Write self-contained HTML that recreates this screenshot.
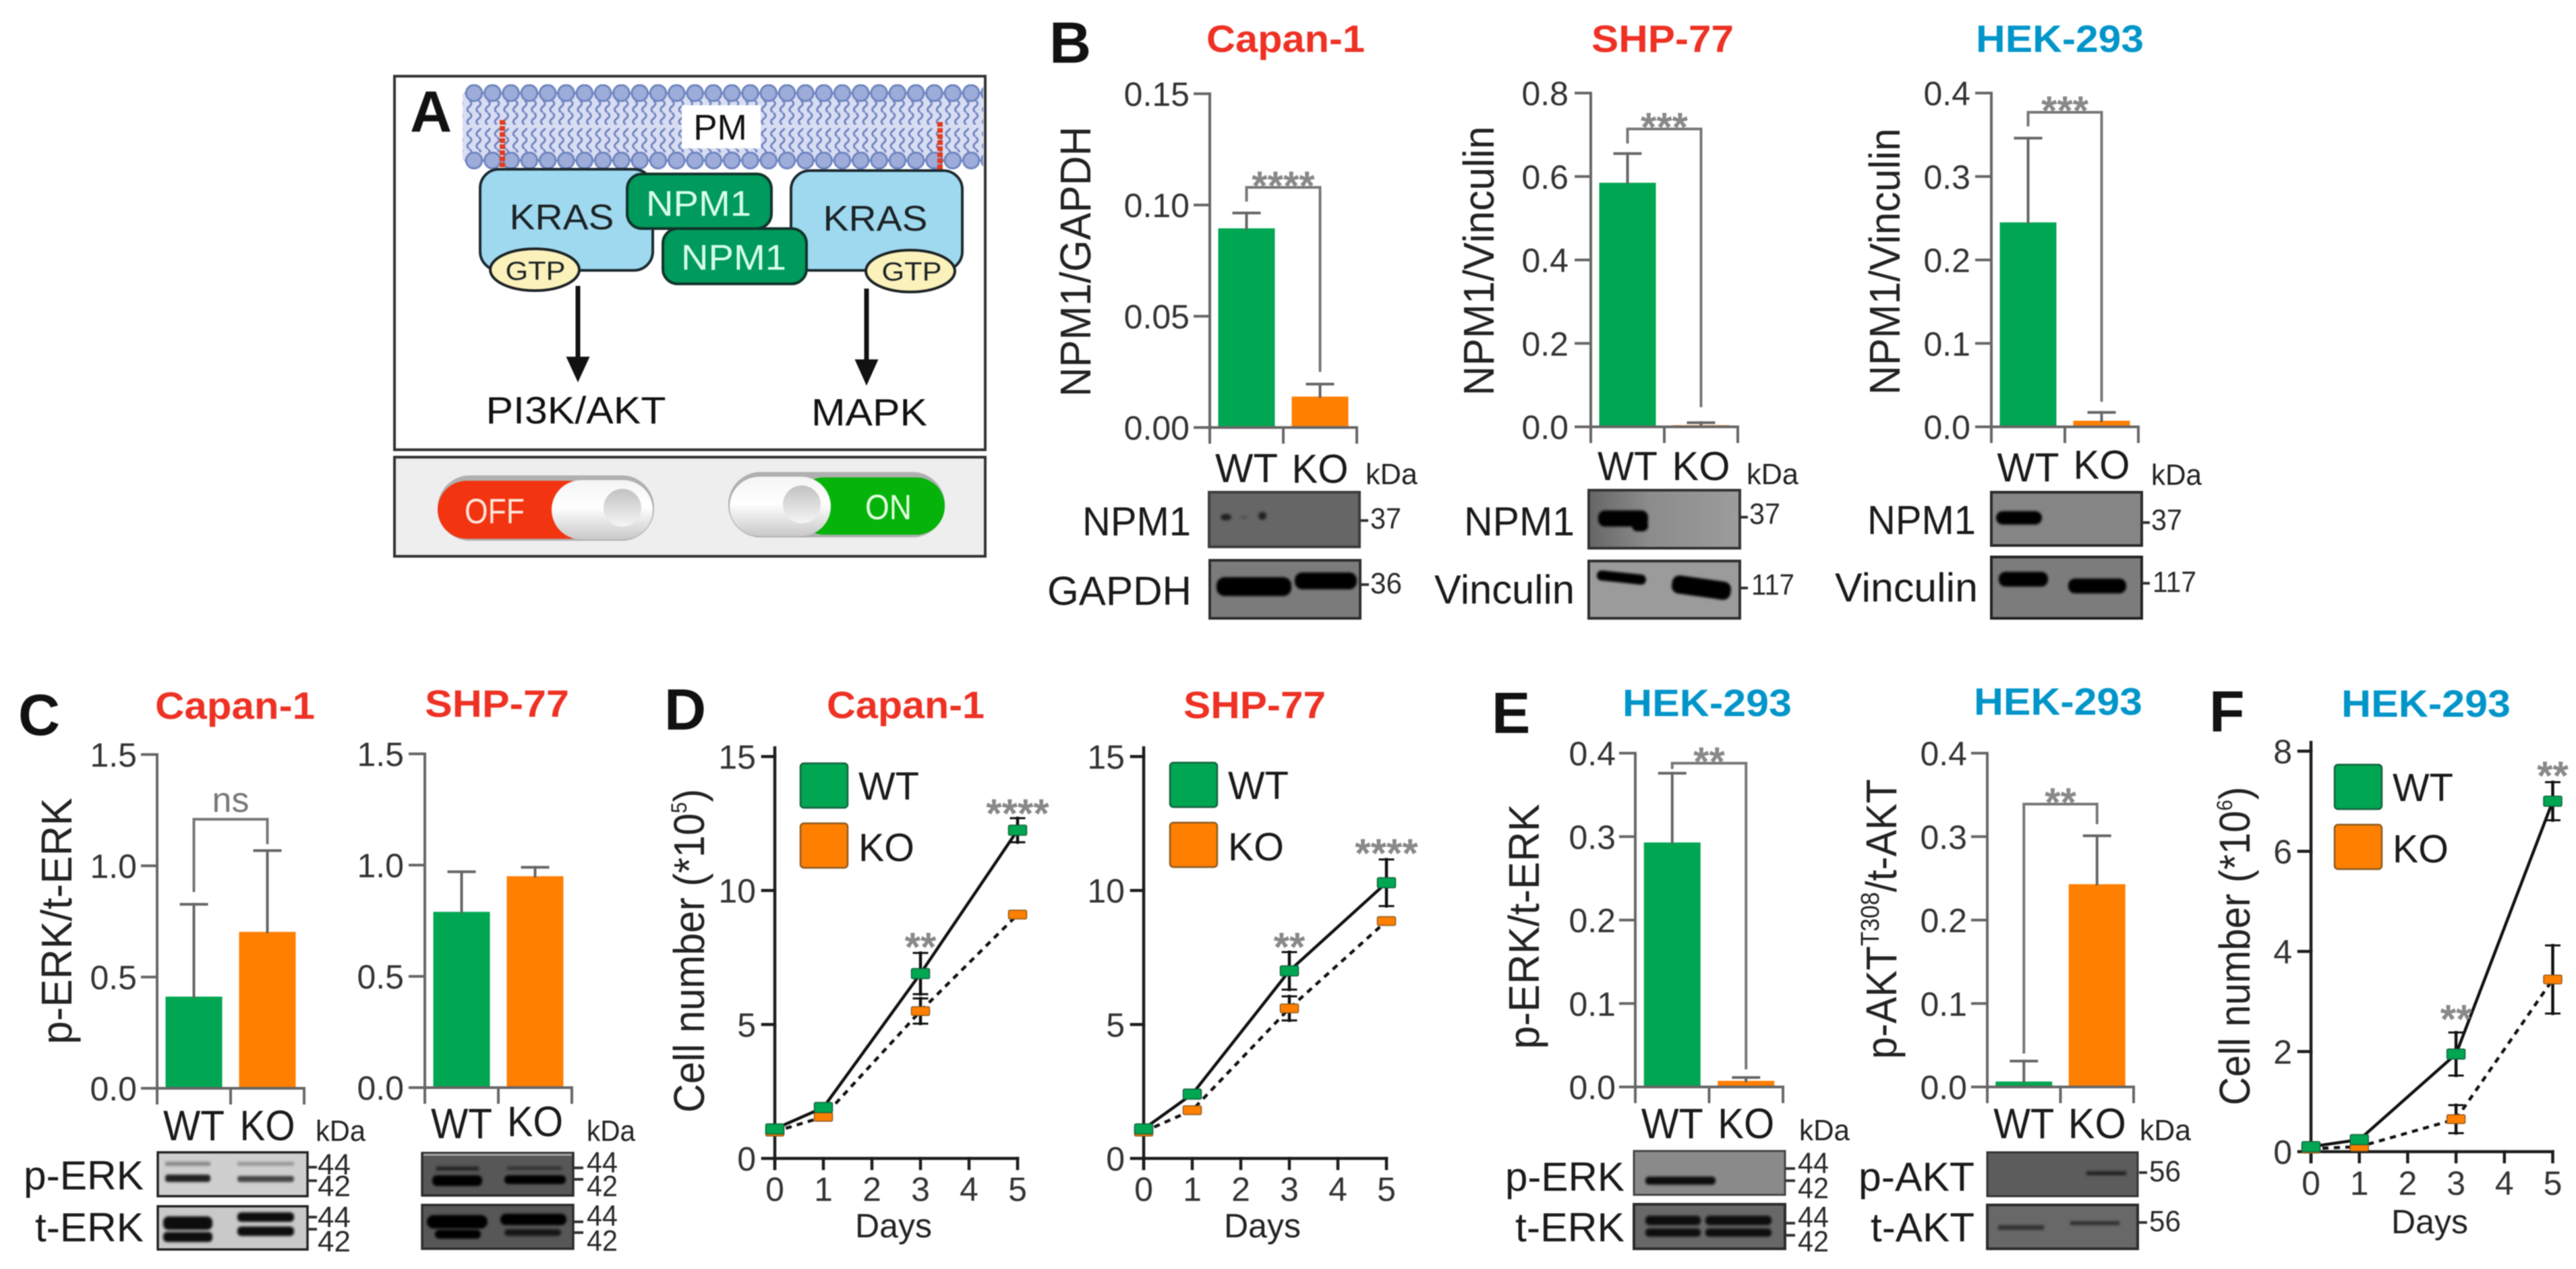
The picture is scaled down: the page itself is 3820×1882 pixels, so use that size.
<!DOCTYPE html>
<html lang="en">
<head>
<meta charset="utf-8">
<title>NPM1 KRAS figure</title>
<style>
html,body{margin:0;padding:0;background:#fff;width:3820px;height:1882px;overflow:hidden}
svg{display:block;font-family:"Liberation Sans",Arial,sans-serif;filter:blur(.8px)}
.pl{font-weight:700;fill:#111;font-size:86px}
.tr{font-weight:700;fill:#ee3124;font-size:57px}
.tb{font-weight:700;fill:#0095c9;font-size:57px}
.bl{fill:#1a1a1a;font-size:60px}
.mw{fill:#2a2a2a;font-size:44px}
.kd{fill:#222;font-size:44px}
.a{fill:#1c2326}
</style>
</head>
<body>
<svg id="figure" width="3820" height="1882" viewBox="0 0 3820 1882">
<defs>
<pattern id="heads" x="689.35" y="125" width="27.3" height="100" patternUnits="userSpaceOnUse">
<rect x="0" y="11.500" width="27.3" height="3" fill="#6f85c0"/>
<circle cx="13.65" cy="13" r="11.8" fill="#9dacd9" stroke="#6f85c0" stroke-width="3"/>
</pattern>
<pattern id="tails" x="689" y="149" width="13.65" height="18" patternUnits="userSpaceOnUse">
<path d="M7 0q6 4.500 0 9q-6 4.500 0 9" fill="none" stroke="#7186c2" stroke-width="3"/>
</pattern>
<linearGradient id="knobpill" x1="0" y1="0" x2="0" y2="1"><stop offset="0" stop-color="#f4f4f4"/><stop offset=".45" stop-color="#fff"/><stop offset="1" stop-color="#c8c8c8"/></linearGradient>
<linearGradient id="knob" x1="0" y1="0" x2="0" y2="1"><stop offset="0" stop-color="#c2c2c2"/><stop offset="1" stop-color="#f5f5f5"/></linearGradient>
<linearGradient id="npmblot" x1="0" y1="0" x2="1" y2="0"><stop offset="0" stop-color="#666"/><stop offset=".4" stop-color="#8c8c8c"/><stop offset="1" stop-color="#9c9c9c"/></linearGradient>
<filter id="soft" x="-20%" y="-60%" width="140%" height="220%"><feGaussianBlur stdDeviation="1.8"/></filter>
</defs>
<rect width="3820" height="1882" fill="#fff"/>

<g>
<rect x="585" y="113" width="876" height="554" fill="#fff" stroke="#333" stroke-width="4"/>
<g>
<rect x="686" y="138" width="772" height="100" fill="#d8ddf2"/>
<rect x="686" y="149" width="772" height="36" fill="url(#tails)"/>
<rect x="686" y="190" width="772" height="36" fill="url(#tails)"/>
<rect x="689" y="124" width="769" height="29" fill="url(#heads)"/>
<rect x="689" y="225" width="769" height="27" fill="url(#heads)"/>
<rect x="1011" y="156" width="117" height="64" fill="#fff"/>
<text x="1068" y="207" text-anchor="middle" font-size="53" fill="#111">PM</text>
<path d="M745 178V252" fill="none" stroke="#e33a1c" stroke-width="8" stroke-dasharray="7 2"/>
<path d="M1394 181V254" fill="none" stroke="#e33a1c" stroke-width="8" stroke-dasharray="7 2"/>
</g>
<rect x="712" y="251" width="256" height="150" rx="28" fill="#9fd9ef" stroke="#1c2a30" stroke-width="4"/>
<rect x="1173" y="253" width="254" height="148" rx="28" fill="#9fd9ef" stroke="#1c2a30" stroke-width="4"/>
<text x="833" y="340" text-anchor="middle" font-size="53" textLength="155" class="a">KRAS</text>
<text x="1298" y="342" text-anchor="middle" font-size="53" textLength="155" class="a">KRAS</text>
<rect x="930" y="258" width="214" height="81" rx="22" fill="#009a5c" stroke="#12332a" stroke-width="4"/>
<rect x="983" y="339" width="213" height="82" rx="22" fill="#009a5c" stroke="#12332a" stroke-width="4"/>
<text x="1036" y="320" text-anchor="middle" font-size="53" textLength="156" fill="#d9ffec">NPM1</text>
<text x="1088" y="400" text-anchor="middle" font-size="53" textLength="156" fill="#d9ffec">NPM1</text>
<ellipse cx="793" cy="400" rx="66" ry="31" fill="#fbf1ba" stroke="#1c2326" stroke-width="4"/>
<ellipse cx="1350" cy="402" rx="66" ry="31" fill="#fbf1ba" stroke="#1c2326" stroke-width="4"/>
<text x="794" y="415" text-anchor="middle" font-size="39" textLength="89" class="a">GTP</text>
<text x="1352" y="416" text-anchor="middle" font-size="39" textLength="89" class="a">GTP</text>
<path d="M853.500 424h7v105h14l-17.500 38-17.500-38h14z" fill="#111"/>
<path d="M1281.500 428h7v105h14l-17.500 39-17.500-39h14z" fill="#111"/>
<text x="854" y="628" text-anchor="middle" font-size="57" textLength="267" fill="#111">PI3K/AKT</text>
<text x="1289" y="631" text-anchor="middle" font-size="57" textLength="172" fill="#111">MAPK</text>
<text x="608" y="195" class="pl">A</text>
<rect x="585" y="678" width="876" height="147" fill="#eee" stroke="#333" stroke-width="4"/>
<g>
<rect x="649" y="705" width="321" height="97" rx="48" fill="#b0b0b0"/>
<rect x="649" y="713" width="240" height="86" rx="43" fill="#f23410"/>
<rect x="818" y="712" width="150" height="88" rx="44" fill="url(#knobpill)"/>
<circle cx="923" cy="753" r="28" fill="url(#knob)"/>
<text x="689" y="776" font-size="52" textLength="89" fill="#ffe6dc">OFF</text>
</g>
<g>
<rect x="1080" y="700" width="321" height="97" rx="48" fill="#b0b0b0"/>
<rect x="1180" y="708" width="221" height="85" rx="42" fill="#06b30a"/>
<rect x="1082" y="707" width="150" height="88" rx="44" fill="url(#knobpill)"/>
<circle cx="1189" cy="748" r="28" fill="url(#knob)"/>
<text x="1283" y="770" font-size="52" textLength="69" fill="#e4ffe0">ON</text>
</g>
</g>

<g>
<text x="1556" y="93" class="pl">B</text>
<text x="1789" y="77" class="tr" textLength="235">Capan-1</text>
<text x="2360" y="77" class="tr" textLength="211">SHP-77</text>
<text x="2930" y="77" class="tb" textLength="249">HEK-293</text>
<text x="2025" y="718" class="kd" textLength="77">kDa</text>
<text x="2590" y="718" class="kd" textLength="77">kDa</text>
<text x="3190" y="719" class="kd" textLength="75">kDa</text>
<g>
<rect x="1793" y="730" width="223" height="81" fill="#666" stroke="#3c3c3c" stroke-width="4"/>
<g filter="url(#soft)" fill="#222"><ellipse cx="1818" cy="767" rx="8" ry="5"/><ellipse cx="1845" cy="767" rx="6" ry="3" fill="#555"/><ellipse cx="1872" cy="765" rx="6" ry="6"/></g>
</g>
<g>
<rect x="1794" y="831" width="223" height="86" fill="#7b7b7b" stroke="#2e2e2e" stroke-width="4"/>
<g filter="url(#soft)" fill="#000"><rect x="1804" y="856" width="111" height="28" rx="12"/><rect x="1920" y="849" width="92" height="25" rx="11"/></g>
</g>
<g>
<rect x="2356" y="727" width="224" height="86" fill="url(#npmblot)" stroke="#333" stroke-width="4"/>
<g filter="url(#soft)" fill="#000"><rect x="2370" y="757" width="74" height="24" rx="10"/><rect x="2420" y="770" width="24" height="18" rx="8"/></g>
</g>
<g>
<rect x="2356" y="832" width="224" height="85" fill="#9b9b9b" stroke="#2e2e2e" stroke-width="4"/>
<g filter="url(#soft)" fill="#000"><rect x="2368" y="849" width="73" height="15" rx="7" transform="rotate(6 2404 856)"/><rect x="2479" y="858" width="88" height="27" rx="11" transform="rotate(8 2523 871)"/></g>
</g>
<g>
<rect x="2953" y="730" width="223" height="79" fill="#858585" stroke="#2a2a2a" stroke-width="4"/>
<g filter="url(#soft)" fill="#000"><rect x="2960" y="758" width="68" height="20" rx="10"/></g>
</g>
<g>
<rect x="2953" y="826" width="223" height="91" fill="#7c7c7c" stroke="#222" stroke-width="4"/>
<g filter="url(#soft)" fill="#000"><rect x="2964" y="848" width="73" height="22" rx="10"/><rect x="3067" y="858" width="86" height="22" rx="10"/></g>
</g>
<text x="1605" y="794" class="bl" textLength="161">NPM1</text>
<text x="1553" y="897" class="bl" textLength="214">GAPDH</text>
<text x="2171" y="794" class="bl" textLength="164">NPM1</text>
<text x="2127" y="895" class="bl" textLength="208">Vinculin</text>
<text x="2769" y="792" class="bl" textLength="161">NPM1</text>
<text x="2721" y="892" class="bl" textLength="212">Vinculin</text>
<text x="2032" y="784" class="mw" textLength="46">37</text>
<text x="2032" y="880" class="mw" textLength="47">36</text>
<text x="2594" y="777" class="mw" textLength="46">37</text>
<text x="2597" y="882" class="mw" textLength="64">117</text>
<text x="3190" y="786" class="mw" textLength="46">37</text>
<text x="3192" y="878" class="mw" textLength="65">117</text>
<path d="M2018 772h11M2019 867h11M2581 767h11M2581 872h11M3177 775h11M3177 865h11" stroke="#333" stroke-width="4"/>
</g>

<g>
<text x="27" y="1090" class="pl">C</text>
<text x="230" y="1066" class="tr" textLength="237">Capan-1</text>
<text x="630" y="1063" class="tr" textLength="214">SHP-77</text>
<text x="468" y="1692" class="kd" textLength="74">kDa</text>
<text x="870" y="1692" class="kd" textLength="72">kDa</text>
<g>
<rect x="234" y="1709" width="222" height="65" fill="#cfcfcf" stroke="#222" stroke-width="3.5"/>
<g filter="url(#soft)"><rect x="245" y="1723" width="67" height="6" fill="#888"/><rect x="352" y="1723" width="84" height="6" fill="#999"/><rect x="245" y="1742" width="67" height="11" rx="4" fill="#222"/><rect x="352" y="1744" width="84" height="9" rx="4" fill="#444"/></g>
</g>
<g>
<rect x="234" y="1789" width="222" height="64" fill="#c9c9c9" stroke="#222" stroke-width="3.5"/>
<g filter="url(#soft)" fill="#0d0d0d"><rect x="242" y="1804" width="73" height="20" rx="8"/><rect x="242" y="1827" width="73" height="15" rx="6"/><rect x="352" y="1798" width="84" height="14" rx="6"/><rect x="352" y="1819" width="84" height="14" rx="6"/></g>
</g>
<g>
<rect x="626" y="1710" width="224" height="63" fill="#575757" stroke="#2c2c2c" stroke-width="3.5"/>
<rect x="628" y="1711" width="220" height="3" fill="#aaa"/>
<g filter="url(#soft)"><rect x="647" y="1730" width="63" height="6" fill="#222"/><rect x="641" y="1743" width="74" height="16" rx="7" fill="#050505"/><rect x="752" y="1730" width="81" height="5" fill="#333"/><rect x="748" y="1743" width="91" height="13" rx="6" fill="#050505"/></g>
</g>
<g>
<rect x="626" y="1787" width="224" height="65" fill="#575757" stroke="#2c2c2c" stroke-width="3.5"/>
<g filter="url(#soft)" fill="#050505"><rect x="633" y="1802" width="90" height="20" rx="10"/><rect x="645" y="1824" width="68" height="13" rx="6"/><rect x="742" y="1800" width="98" height="17" rx="8"/><rect x="748" y="1823" width="84" height="10" rx="5" fill="#151515"/></g>
</g>
<text x="35" y="1764" class="bl" textLength="178">p-ERK</text>
<text x="52" y="1841" class="bl" textLength="161">t-ERK</text>
<text x="471" y="1742" class="mw" textLength="49">44</text>
<text x="471" y="1774" class="mw" textLength="49">42</text>
<text x="471" y="1820" class="mw" textLength="49">44</text>
<text x="471" y="1856" class="mw" textLength="49">42</text>
<text x="870" y="1739" class="mw" textLength="46">44</text>
<text x="870" y="1774" class="mw" textLength="46">42</text>
<text x="870" y="1818" class="mw" textLength="46">44</text>
<text x="870" y="1855" class="mw" textLength="46">42</text>
<path d="M456 1731h14M456 1751h14M456 1805h14M456 1823h14M851 1732h14M851 1749h14M851 1812h14M851 1828h14" stroke="#333" stroke-width="4"/>
</g>

<g>
<text x="985" y="1082" class="pl">D</text>
<text x="1226" y="1065" class="tr" textLength="234">Capan-1</text>
<text x="1755" y="1065" class="tr" textLength="211">SHP-77</text>
</g>

<g>
<text x="2212" y="1087" class="pl">E</text>
<text x="2406" y="1062" class="tb" textLength="251">HEK-293</text>
<text x="2927" y="1060" class="tb" textLength="250">HEK-293</text>
<text x="2668" y="1691" class="kd" textLength="75">kDa</text>
<text x="3173" y="1691" class="kd" textLength="76">kDa</text>
<g>
<rect x="2423" y="1707" width="224" height="65" fill="#8a8a8a" stroke="#444" stroke-width="3"/>
<g filter="url(#soft)" fill="#0d0d0d"><rect x="2440" y="1745" width="104" height="12" rx="5"/></g>
</g>
<g>
<rect x="2423" y="1786" width="224" height="66" fill="#686868" stroke="#2c2c2c" stroke-width="4"/>
<g filter="url(#soft)" fill="#0a0a0a"><rect x="2440" y="1803" width="82" height="14" rx="6"/><rect x="2440" y="1822" width="82" height="12" rx="5"/><rect x="2529" y="1803" width="98" height="14" rx="6"/><rect x="2529" y="1822" width="98" height="12" rx="5"/></g>
</g>
<g>
<rect x="2947" y="1709" width="223" height="65" fill="#5c5c5c" stroke="#333" stroke-width="3"/>
<g filter="url(#soft)" fill="#222"><rect x="3094" y="1737" width="59" height="6"/></g>
</g>
<g>
<rect x="2947" y="1787" width="223" height="65" fill="#686868" stroke="#2c2c2c" stroke-width="4"/>
<g filter="url(#soft)" fill="#333"><rect x="2963" y="1817" width="68" height="7"/><rect x="3070" y="1811" width="73" height="6"/></g>
</g>
<text x="2232" y="1766" class="bl" textLength="177">p-ERK</text>
<text x="2247" y="1841" class="bl" textLength="162">t-ERK</text>
<text x="2756" y="1766" class="bl" textLength="172">p-AKT</text>
<text x="2774" y="1841" class="bl" textLength="154">t-AKT</text>
<text x="2666" y="1740" class="mw" textLength="46">44</text>
<text x="2666" y="1777" class="mw" textLength="46">42</text>
<text x="2666" y="1820" class="mw" textLength="46">44</text>
<text x="2666" y="1856" class="mw" textLength="46">42</text>
<text x="3187" y="1752" class="mw" textLength="47">56</text>
<text x="3187" y="1826" class="mw" textLength="47">56</text>
<path d="M2648 1733h14M2648 1751h14M2648 1814h14M2648 1832h14M3172 1739h12M3172 1813h12" stroke="#333" stroke-width="4"/>
</g>

<g>
<text x="3276" y="1085" class="pl">F</text>
<text x="3472" y="1063" class="tb" textLength="251">HEK-293</text>
</g>
<g id="charts"></g>
</svg>
<script>
// ---- bar chart data ----
const barCategories = ['WT', 'KO'];
const capanNpm1Values = [0.0895, 0.0139];
const capanNpm1Errors = [0.0069, 0.0056];
const capanNpm1Ticks = [0, 0.05, 0.10, 0.15];
const capanNpm1TickLabels = ['0.00', '0.05', '0.10', '0.15'];
const shpNpm1Values = [0.585, 0.004];
const shpNpm1Errors = [0.07, 0.006];
const npm1VinculinTicks = [0, 0.2, 0.4, 0.6, 0.8];
const npm1VinculinTickLabels = ['0.0', '0.2', '0.4', '0.6', '0.8'];
const hekNpm1Values = [0.245, 0.0073];
const hekNpm1Errors = [0.101, 0.01];
const tenthTicks = [0, 0.1, 0.2, 0.3, 0.4];
const tenthTickLabels = ['0.0', '0.1', '0.2', '0.3', '0.4'];
const capanErkValues = [0.412, 0.703];
const capanErkErrors = [0.415, 0.365];
const shpErkValues = [0.79, 0.95];
const shpErkErrors = [0.18, 0.04];
const erkTicks = [0, 0.5, 1.0, 1.5];
const erkTickLabels = ['0.0', '0.5', '1.0', '1.5'];
const hekErkValues = [0.293, 0.0073];
const hekErkErrors = [0.083, 0.004];
const hekAktValues = [0.0065, 0.243];
const hekAktErrors = [0.0245, 0.058];

// ---- growth curve data ----
const measuredDays = [0, 1, 3, 5];
const dayTicks = [0, 1, 2, 3, 4, 5];
const cellTicks5 = [0, 5, 10, 15];
const cellTicks6 = [0, 2, 4, 6, 8];
const capanWt = [1.1, 1.9, 6.9, 12.25];
const capanWtErr = [0, 0, 0.77, 0.45];
const capanKo = [1.0, 1.55, 5.5, 9.1];
const capanKoErr = [0, 0, 0.47, 0];
const shpWt = [1.1, 2.4, 7.0, 10.29];
const shpWtErr = [0, 0, 0.7, 0.87];
const shpKo = [1.0, 1.8, 5.6, 8.86];
const shpKoErr = [0, 0, 0.45, 0];
const hekWt = [0.1, 0.24, 1.95, 7.0];
const hekWtErr = [0, 0, 0.43, 0.38];
const hekKo = [0.06, 0.1, 0.65, 3.44];
const hekKoErr = [0, 0, 0.28, 0.68];

const figure = document.getElementById('figure');
const root = document.getElementById('charts');
const SVGNS = figure.namespaceURI;
figure.querySelectorAll('text[textLength]').forEach(function (t) { t.setAttribute('lengthAdjust', 'spacingAndGlyphs'); });

function mk(parent, tag, attrs) {
  const el = document.createElementNS(SVGNS, tag);
  for (const k in attrs) el.setAttribute(k, attrs[k]);
  parent.appendChild(el);
  return el;
}
function group(parent, name) {
  const g = mk(parent, 'g', {});
  
  
  return g;
}
function label(parent, name, str, x, y, size, extra) {
  const t = mk(parent, 'text', Object.assign({ x: x, y: y, 'font-size': size }, extra || {}));
  
  
  t.textContent = str;
  return t;
}
function seg(parent, name, x1, y1, x2, y2, stroke, w) {
  const l = mk(parent, 'line', { x1: x1, y1: y1, x2: x2, y2: y2, stroke: stroke, 'stroke-width': w, 'stroke-linecap': 'square' });
  
  
  return l;
}
function rotatedTitle(parent, name, parts, bx, cy, size, sx) {
  const t = mk(parent, 'text', { 'font-size': size, 'text-anchor': 'middle', fill: '#222', transform: 'translate(' + bx + ',' + cy + ') rotate(-90) scale(' + sx + ',1)' });
  
  
  let shift = 0;
  parts.forEach(function (p) {
    const s = mk(t, 'tspan', {});
    if (p.sup) { s.setAttribute('font-size', p.sup); s.setAttribute('dy', -26); shift = 26; }
    else if (shift) { s.setAttribute('dy', shift); shift = 0; }
    s.textContent = p.text;
  });
  return t;
}

function drawBarChart(c) {
  const g = group(root, c.name);
  const maxV = c.ticks[c.ticks.length - 1];
  const y = function (v) { return c.zeroY - v / maxV * (c.zeroY - c.topY); };
  const band = (c.endX - c.axisX) / c.categories.length;
  const cx = function (i) { return c.axisX + (i + 0.5) * band; };
  const axisColor = '#666';
  c.values.forEach(function (v, i) {
    const bar = mk(g, 'rect', { x: cx(i) - 42, y: y(v), width: 84, height: c.zeroY - y(v), fill: i === 0 ? '#00a651' : '#ff7f00' });
    
    
    seg(g, 'error-bar-' + c.categories[i].toLowerCase(), cx(i), y(v), cx(i), y(v + c.errors[i]), axisColor, 4);
    seg(g, 'error-cap-' + c.categories[i].toLowerCase(), cx(i) - 19, y(v + c.errors[i]), cx(i) + 19, y(v + c.errors[i]), axisColor, 4);
    label(g, 'category-label-' + c.categories[i].toLowerCase(), c.categories[i], cx(i), c.catY[i], c.catSize, { 'text-anchor': 'middle', fill: '#1a1a1a', textLength: c.catW[i], lengthAdjust: 'spacingAndGlyphs' });
  });
  seg(g, 'y-axis', c.axisX, c.topY, c.axisX, c.zeroY + 22, axisColor, 4);
  seg(g, 'x-axis', c.axisX, c.zeroY, c.endX, c.zeroY, axisColor, 4);
  [0, 1, 2].forEach(function (k) { seg(g, 'x-tick', c.axisX + k * band, c.zeroY, c.axisX + k * band, c.zeroY + 22, axisColor, 4); });
  c.ticks.forEach(function (v, i) {
    seg(g, 'y-tick', c.axisX - 22, y(v), c.axisX, y(v), axisColor, 4);
    label(g, 'y-tick-label', c.tickLabels[i], c.labelRight, y(v) + 18, 50, { 'text-anchor': 'end', fill: '#333' });
  });
  if (c.bracket) {
    const b = c.bracket;
    const br = mk(g, 'path', { d: 'M' + cx(0) + ' ' + y(b.left) + 'V' + y(b.top) + 'H' + cx(1) + 'V' + y(b.right), fill: 'none', stroke: '#777', 'stroke-width': 4 });
    
    
    if (b.text === 'ns') {
      label(g, 'significance-label', b.text, (cx(0) + cx(1)) / 2, y(b.top) - 11, 52, { 'text-anchor': 'middle', fill: '#777' });
    } else {
      label(g, 'significance-stars', b.text, (cx(0) + cx(1)) / 2, y(b.top) + 18, 60, { 'text-anchor': 'middle', fill: '#888', 'font-weight': 700 });
    }
  }
  if (c.title) rotatedTitle(g, 'y-axis-title', c.title, c.titleX, c.titleY, 64, c.titleSx);
}

function drawLineChart(c) {
  const g = group(root, c.name);
  const maxV = c.yTicks[c.yTicks.length - 1];
  const x = function (d) { return c.axisX + d * c.dayW; };
  const y = function (v) { return c.zeroY - v / maxV * (c.zeroY - c.maxY); };
  const axisColor = '#1c1c1c';
  seg(g, 'y-axis', c.axisX, c.axisTop, c.axisX, c.zeroY + 15, axisColor, 4.5);
  seg(g, 'x-axis', c.axisX, c.zeroY, x(5), c.zeroY, axisColor, 4.5);
  c.yTicks.forEach(function (v) {
    seg(g, 'y-tick', c.axisX - 18, y(v), c.axisX, y(v), axisColor, 4.5);
    label(g, 'y-tick-label', String(v), c.axisX - 28, y(v) + 18, 50, { 'text-anchor': 'end', fill: '#333' });
  });
  dayTicks.forEach(function (d) {
    seg(g, 'x-tick', x(d), c.zeroY, x(d), c.zeroY + 15, axisColor, 4.5);
    label(g, 'x-tick-label', String(d), x(d), c.xLabelY, 50, { 'text-anchor': 'middle', fill: '#333' });
  });
  label(g, 'x-axis-title', 'Days', c.daysX, c.daysY, 50, { 'text-anchor': 'middle', fill: '#222' });
  if (c.title.length) rotatedTitle(g, 'y-axis-title', c.title, c.titleX, c.titleY, 64, c.titleSx);

  [{ key: 'ko', vals: c.ko, errs: c.koErr, fill: '#ff7f00', edge: '#8a5a20', dash: '9 8', h: 13 },
   { key: 'wt', vals: c.wt, errs: c.wtErr, fill: '#00a651', edge: '#14603c', dash: null, h: 15 }].forEach(function (s) {
    const line = mk(g, 'polyline', { points: c.days.map(function (d, i) { return x(d) + ',' + y(s.vals[i]); }).join(' '), fill: 'none', stroke: '#111', 'stroke-width': 4.5 });
    if (s.dash) line.setAttribute('stroke-dasharray', s.dash);
    
    
    c.days.forEach(function (d, i) {
      if (s.errs[i] > 0) {
        seg(g, 'error-bar-' + s.key, x(d), y(s.vals[i] + s.errs[i]), x(d), y(s.vals[i] - s.errs[i]), '#111', 4.5);
        seg(g, 'error-cap-' + s.key, x(d) - 10, y(s.vals[i] + s.errs[i]), x(d) + 10, y(s.vals[i] + s.errs[i]), '#111', 3);
        seg(g, 'error-cap-' + s.key, x(d) - 10, y(s.vals[i] - s.errs[i]), x(d) + 10, y(s.vals[i] - s.errs[i]), '#111', 3);
      }
      const m = mk(g, 'rect', { x: x(d) - 13.5, y: y(s.vals[i]) - s.h / 2, width: 27, height: s.h, rx: 2, fill: s.fill, stroke: s.edge, 'stroke-width': 1.5 });
      
      
    });
  });
  c.stars.forEach(function (st) {
    label(g, 'significance-stars', st.text, x(st.day), c.zeroY - (st.lift), 60, { 'text-anchor': 'middle', fill: '#888', 'font-weight': 700 });
  });
  const lg = group(g, 'legend');
  const wtBox = mk(lg, 'rect', { x: c.legendX, y: c.legendY, width: 70, height: 66, rx: 5, fill: '#00a651', stroke: '#14603c', 'stroke-width': 2.5 });
  
  
  const koBox = mk(lg, 'rect', { x: c.legendX, y: c.legendY + 89, width: 70, height: 66, rx: 5, fill: '#ff7f00', stroke: '#8a5a20', 'stroke-width': 2.5 });
  
  
  label(lg, 'legend-label-wt', 'WT', c.legendX + 86, c.legendY + 54, 58, { fill: '#1a1a1a', textLength: 90, lengthAdjust: 'spacingAndGlyphs' });
  label(lg, 'legend-label-ko', 'KO', c.legendX + 86, c.legendY + 145, 58, { fill: '#1a1a1a', textLength: 83, lengthAdjust: 'spacingAndGlyphs' });
}

drawBarChart({ name: 'chart-b-capan-npm1', categories: barCategories, values: capanNpm1Values, errors: capanNpm1Errors, ticks: capanNpm1Ticks, tickLabels: capanNpm1TickLabels,
  axisX: 1794, endX: 2012, topY: 139, zeroY: 634, labelRight: 1764, catY: [715, 716], catSize: 60, catW: [93, 84],
  bracket: { top: 0.1079, left: 0.1015, right: 0.025, text: '****' },
  title: [{ text: 'NPM1/GAPDH' }], titleX: 1617, titleY: 388, titleSx: 0.948 });
drawBarChart({ name: 'chart-b-shp-npm1', categories: barCategories, values: shpNpm1Values, errors: shpNpm1Errors, ticks: npm1VinculinTicks, tickLabels: npm1VinculinTickLabels,
  axisX: 2359, endX: 2577, topY: 138, zeroY: 633, labelRight: 2326, catY: [712, 712], catSize: 60, catW: [89, 86],
  bracket: { top: 0.714, left: 0.679, right: 0.047, text: '***' },
  title: [{ text: 'NPM1/Vinculin' }], titleX: 2215, titleY: 387, titleSx: 0.955 });
drawBarChart({ name: 'chart-b-hek-npm1', categories: barCategories, values: hekNpm1Values, errors: hekNpm1Errors, ticks: tenthTicks, tickLabels: tenthTickLabels,
  axisX: 2953, endX: 3171, topY: 138, zeroY: 633, labelRight: 2922, catY: [714, 710], catSize: 60, catW: [92, 84],
  bracket: { top: 0.377, left: 0.36, right: 0.03, text: '***' },
  title: [{ text: 'NPM1/Vinculin' }], titleX: 2817, titleY: 388, titleSx: 0.945 });
drawBarChart({ name: 'chart-c-capan-erk', categories: barCategories, values: capanErkValues, errors: capanErkErrors, ticks: erkTicks, tickLabels: erkTickLabels,
  axisX: 233, endX: 451, topY: 1119, zeroY: 1614, labelRight: 203, catY: [1691, 1691], catSize: 63, catW: [91, 82],
  bracket: { top: 1.209, left: 0.882, right: 1.097, text: 'ns' },
  title: [{ text: 'p-ERK/t-ERK' }], titleX: 106, titleY: 1366, titleSx: 0.97 });
drawBarChart({ name: 'chart-c-shp-erk', categories: barCategories, values: shpErkValues, errors: shpErkErrors, ticks: erkTicks, tickLabels: erkTickLabels,
  axisX: 630, endX: 848, topY: 1118, zeroY: 1613, labelRight: 599, catY: [1688, 1685], catSize: 63, catW: [91, 83] });
drawBarChart({ name: 'chart-e-hek-erk', categories: barCategories, values: hekErkValues, errors: hekErkErrors, ticks: tenthTicks, tickLabels: tenthTickLabels,
  axisX: 2425, endX: 2644, topY: 1117, zeroY: 1612, labelRight: 2396, catY: [1688, 1688], catSize: 63, catW: [92, 84],
  bracket: { top: 0.388, left: 0.381, right: 0.021, text: '**' },
  title: [{ text: 'p-ERK/t-ERK' }], titleX: 2282, titleY: 1374, titleSx: 0.965 });
drawBarChart({ name: 'chart-e-hek-akt', categories: barCategories, values: hekAktValues, errors: hekAktErrors, ticks: tenthTicks, tickLabels: tenthTickLabels,
  axisX: 2947, endX: 3164, topY: 1117, zeroY: 1612, labelRight: 2917, catY: [1688, 1688], catSize: 63, catW: [90, 86],
  bracket: { top: 0.339, left: 0.04, right: 0.315, text: '**' },
  title: [{ text: 'p-AKT' }, { text: 'T308', sup: 38 }, { text: '/t-AKT' }], titleX: 2812, titleY: 1363, titleSx: 0.924 });

drawLineChart({ name: 'chart-d-capan-growth', days: measuredDays, wt: capanWt, wtErr: capanWtErr, ko: capanKo, koErr: capanKoErr, yTicks: cellTicks5,
  axisX: 1149, dayW: 72, axisTop: 1109, zeroY: 1718, maxY: 1122, xLabelY: 1781, daysX: 1325, daysY: 1835,
  legendX: 1187, legendY: 1132, title: [{ text: 'Cell number (*10' }, { text: '5', sup: 32 }, { text: ')' }], titleX: 1044, titleY: 1410, titleSx: 0.925,
  stars: [{ day: 3, text: '**', lift: 293 }, { day: 5, text: '****', lift: 491 }] });
drawLineChart({ name: 'chart-d-shp-growth', days: measuredDays, wt: shpWt, wtErr: shpWtErr, ko: shpKo, koErr: shpKoErr, yTicks: cellTicks5,
  axisX: 1696, dayW: 72, axisTop: 1109, zeroY: 1718, maxY: 1122, xLabelY: 1781, daysX: 1872, daysY: 1835,
  legendX: 1735, legendY: 1131, title: [], titleX: 0, titleY: 0, titleSx: 1,
  stars: [{ day: 3, text: '**', lift: 293 }, { day: 5, text: '****', lift: 432 }] });
drawLineChart({ name: 'chart-f-hek-growth', days: measuredDays, wt: hekWt, wtErr: hekWtErr, ko: hekKo, koErr: hekKoErr, yTicks: cellTicks6,
  axisX: 3427, dayW: 71.7, axisTop: 1101, zeroY: 1708, maxY: 1114, xLabelY: 1772, daysX: 3603, daysY: 1829,
  legendX: 3462, legendY: 1134, title: [{ text: 'Cell number (*10' }, { text: '6', sup: 32 }, { text: ')' }], titleX: 3336, titleY: 1403, titleSx: 0.91,
  stars: [{ day: 3, text: '**', lift: 176 }, { day: 5, text: '**', lift: 537 }] });
</script>
</body>
</html>
